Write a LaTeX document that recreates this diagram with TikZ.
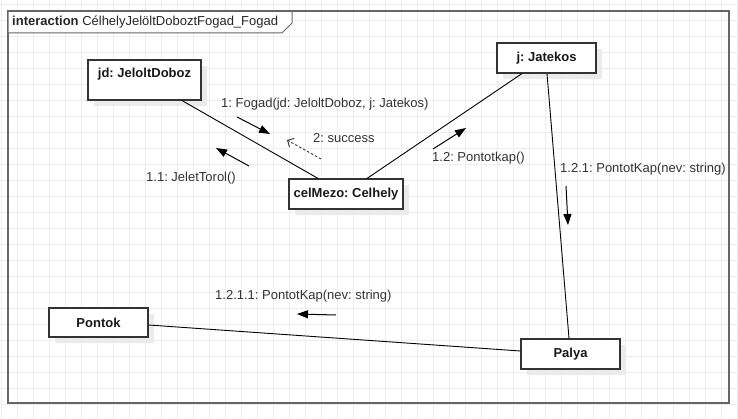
\documentclass[tikz,border=0pt]{standalone}
\usepackage{fontspec}
\setmainfont{Liberation Sans}
\usetikzlibrary{arrows.meta,shadows,calc}
\frenchspacing
\begin{document}
\begin{tikzpicture}[x=1pt,y=-1pt,
  obj/.style={draw=black!80, line width=1.1pt, fill=white, rectangle, inner sep=0pt,
    font=\fontsize{13}{15}\selectfont\bfseries, text=black!90,
    drop shadow={shadow xshift=6pt, shadow yshift=-6pt, fill=black!8, opacity=1}},
  link/.style={draw=black, line width=0.9pt},
  msg/.style={draw=black, line width=1pt, -{Triangle[length=11pt,width=8pt]}},
  ret/.style={draw=black!80, line width=0.9pt, dash pattern=on 2.5pt off 2pt, -{Straight Barb[length=5pt,width=10pt]}},
  lbl/.style={anchor=west, inner sep=0pt, font=\fontsize{13}{15}\selectfont, text=black!80},
  frame/.style={draw=black!60, line width=1.6pt},
  gridline/.style={draw=black!7, line width=0.8pt}]

\useasboundingbox (0,0) rectangle (738,419);
\fill[white] (0,0) rectangle (738,419);
\foreach \gx in {1,17,...,737} \draw[gridline] (\gx,0) -- (\gx,419);
\foreach \gy in {4,20,...,418} \draw[gridline] (0,\gy) -- (738,\gy);

% frame
\draw[frame] (8,11) rectangle (729,403);
\draw[draw=black!60, line width=1pt, fill=white] (8,11) -- (292,11) -- (292,23) -- (282,33) -- (8,33) -- cycle;
\draw[frame] (8,11) -- (292,11);
\node[lbl, text=black!85] (title) at (12,22) {\textbf{interaction} CélhelyJelöltDoboztFogad\_Fogad};

% objects
\node[obj, minimum width=113pt, minimum height=40pt,
  label={[anchor=north, inner sep=0pt, yshift=-8pt, font=\fontsize{13}{15}\selectfont\bfseries, text=black!90]north:{jd: JeloltDoboz}}]
  (jd) at (144.5,80) {};
\node[obj, minimum width=114pt, minimum height=30pt] (cel) at (346,194) {celMezo: Celhely};
\node[obj, minimum width=99pt, minimum height=30pt] (j) at (546.5,58) {j: Jatekos};
\node[obj, minimum width=99pt, minimum height=29pt] (Pontok) at (98.5,322.5) {Pontok};
\node[obj, minimum width=99pt, minimum height=30pt] (Palya) at (570.5,354) {Palya};

% links
\draw[link] ([xshift=37.5pt]jd.south) -- ([xshift=-28pt]cel.north);
\draw[link] ([xshift=21pt]cel.north) -- ([xshift=-24.5pt]j.south);
\draw[link] ([xshift=0.5pt]j.south) -- ([xshift=-1.5pt]Palya.north);
\draw[link] ([yshift=-2.5pt]Pontok.east) -- ([yshift=3pt]Palya.west);

% message arrows
\coordinate (m1s) at (237,117); \coordinate (m1e) at (270,134);
\coordinate (m2s) at (321,159); \coordinate (m2e) at (287,140);
\coordinate (m11s) at (249,166); \coordinate (m11e) at (216,148);
\coordinate (m12s) at (433,149); \coordinate (m12e) at (466,128);
\coordinate (m121s) at (566,186); \coordinate (m121e) at (568,225);
\coordinate (m1211s) at (336,315); \coordinate (m1211e) at (297,314);
\draw[msg] (m1s) -- (m1e);
\draw[ret] (m2s) -- (m2e);
\draw[msg] (m11s) -- (m11e);
\draw[msg] (m12s) -- (m12e);
\draw[msg] (m121s) -- (m121e);
\draw[msg] (m1211s) -- (m1211e);

% labels
\node[lbl] (l1) at (221,104) {1: Fogad(jd: JeloltDoboz, j: Jatekos)};
\node[lbl] (l2) at (313,138) {2: success};
\node[lbl] (l11) at (146,178) {1.1: JeletTorol()};
\node[lbl] (l12) at (432,158) {1.2: Pontotkap()};
\node[lbl] (l121) at (560,169) {1.2.1: PontotKap(nev: string)};
\node[lbl] (l1211) at (215,296) {1.2.1.1: PontotKap(nev: string)};
\end{tikzpicture}
\end{document}
